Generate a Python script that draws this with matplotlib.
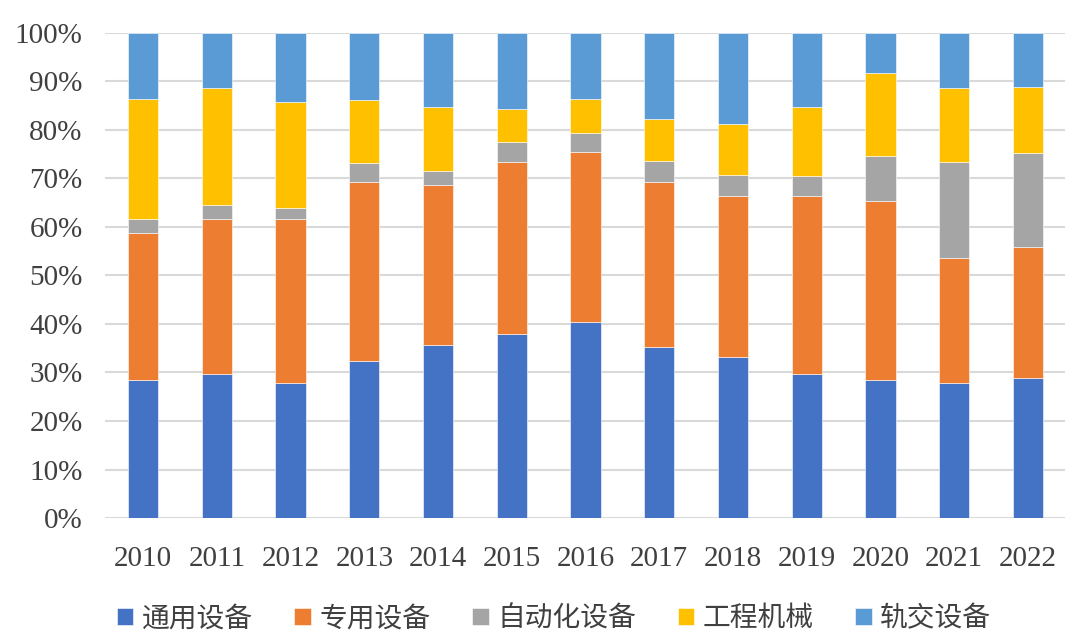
import matplotlib
matplotlib.use("Agg")
import matplotlib.pyplot as plt
import numpy as np

years = ["2010", "2011", "2012", "2013", "2014", "2015", "2016",
         "2017", "2018", "2019", "2020", "2021", "2022"]
series_names = ["通用设备", "专用设备", "自动化设备", "工程机械", "轨交设备"]

# shares in %
general = [28.4, 29.7, 27.8, 32.4, 35.7, 38.0, 40.3, 35.3, 33.1, 29.7, 28.5, 27.8, 28.9]
special = [30.3, 32.0, 33.8, 36.9, 32.9, 35.3, 35.1, 33.9, 33.2, 36.6, 36.8, 25.7, 27.0]
automation = [2.9, 2.9, 2.2, 3.8, 2.9, 4.2, 4.0, 4.3, 4.3, 4.2, 9.3, 19.9, 19.3]
construction = [24.7, 24.1, 21.9, 13.1, 13.2, 6.7, 6.9, 8.7, 10.6, 14.2, 17.1, 15.3, 13.7]
rail = [13.7, 11.3, 14.3, 13.8, 15.3, 15.8, 13.7, 17.8, 18.8, 15.3, 8.3, 11.3, 11.1]

colors = ["#4472C4", "#ED7D31", "#A5A5A5", "#FFC000", "#5B9BD5"]

fig = plt.figure(figsize=(10.8, 6.42), dpi=100)
ax = fig.add_axes([0.097, 0.193, 0.889, 0.756])

x = np.arange(len(years))
bottom = np.zeros(len(years))
for name, vals, c in zip(series_names, [general, special, automation, construction, rail], colors):
    vals = np.array(vals)
    ax.bar(x, vals, 0.41, bottom=bottom, color=c, label=name, zorder=3,
           edgecolor="white", linewidth=0.4)
    bottom += vals

ax.set_ylim(0, 100)
ax.set_xlim(-0.52, len(years) - 0.5)
ax.set_yticks(np.arange(0, 101, 10))
ax.set_yticklabels([f"{v}%" for v in range(0, 101, 10)])
ax.set_xticks(x)
ax.set_xticklabels(years)
ax.yaxis.grid(True, color="#d9d9d9", linewidth=1.5, zorder=0)
ax.set_axisbelow(True)
for s in ax.spines.values():
    s.set_visible(False)
ax.tick_params(length=0)
ax.tick_params(axis="y", pad=16)
ax.tick_params(axis="x", pad=20)
for lab in ax.get_xticklabels() + ax.get_yticklabels():
    lab.set_fontfamily("Liberation Serif")
    lab.set_fontsize(21)
    lab.set_color("#404040")

fig.legend(loc="center", bbox_to_anchor=(0.513, 0.037), ncol=5, frameon=False,
           prop={"family": ["Noto Sans CJK SC", "DejaVu Sans"], "size": 20},
           handlelength=0.6, handleheight=0.6, handletextpad=0.3,
           columnspacing=1.5, labelcolor="#404040")

fig.savefig("out.png", dpi=100)
